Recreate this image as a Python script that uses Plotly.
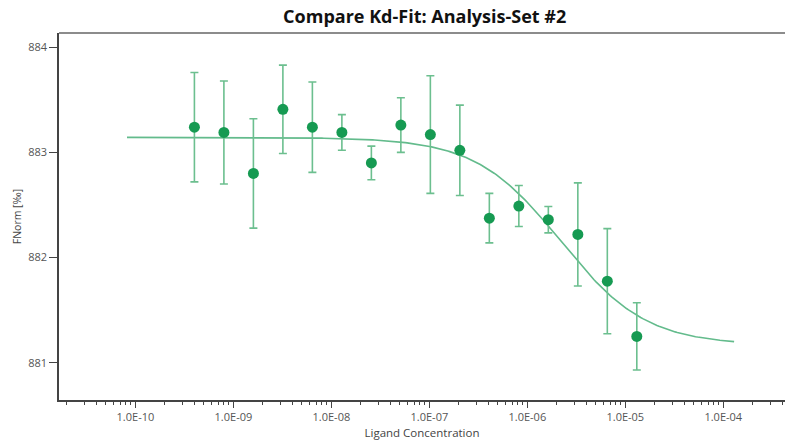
import numpy as np
import plotly.graph_objects as go

# Ligand dilution series (M) and measured normalized fluorescence
ligand_conc = [4.0e-10, 8.0e-10, 1.6e-9, 3.2e-9, 6.4e-9, 1.28e-8, 2.56e-8, 5.12e-8,
               1.024e-7, 2.048e-7, 4.096e-7, 8.192e-7, 1.6384e-6, 3.2768e-6,
               6.5536e-6, 1.31072e-5]
fnorm = [883.24, 883.19, 882.80, 883.41, 883.24, 883.19, 882.90, 883.26,
         883.17, 883.02, 882.375, 882.49, 882.36, 882.22, 881.775, 881.25]
fnorm_err = [0.52, 0.49, 0.52, 0.42, 0.43, 0.17, 0.16, 0.26,
             0.56, 0.43, 0.235, 0.195, 0.125, 0.49, 0.50, 0.32]

# Kd fit parameters
fit_unbound = 883.143
fit_bound = 881.167
fit_kd = 2.2e-6
fit_range = [8.2e-11, 1.29e-4]

x_tickvals = [1e-10, 1e-9, 1e-8, 1e-7, 1e-6, 1e-5, 1e-4]
x_ticktext = ["1.0E-10", "1.0E-09", "1.0E-08", "1.0E-07", "1.0E-06", "1.0E-05", "1.0E-04"]
y_tickvals = [881, 882, 883, 884]

fit_x = np.logspace(np.log10(fit_range[0]), np.log10(fit_range[1]), 300)
fit_y = fit_unbound + (fit_bound - fit_unbound) * fit_x / (fit_x + fit_kd)

minor_vals = [m * 10.0 ** e for e in range(-11, -3) for m in range(2, 10)]

font_family = "Open Sans, DejaVu Sans, sans-serif"

fig = go.Figure()
fig.add_trace(go.Scatter(
    x=fit_x, y=fit_y, mode="lines",
    line=dict(color="#63bb8c", width=1.6),
    hoverinfo="skip", showlegend=False,
))
fig.add_trace(go.Scatter(
    x=ligand_conc, y=fnorm, mode="markers",
    marker=dict(color="#169a52", size=11, line=dict(width=0)),
    error_y=dict(type="data", array=fnorm_err, visible=True,
                 color="#6cbf8f", thickness=1.6, width=4),
    showlegend=False,
))

fig.update_layout(
    width=785, height=441,
    margin=dict(l=59, r=0, t=33, b=41),
    paper_bgcolor="white", plot_bgcolor="white",
    font=dict(family=font_family, color="#555555"),
    title=dict(text="<b>Compare Kd-Fit: Analysis-Set #2</b>",
               x=0.541, xanchor="center", y=1 - 17 / 441, yanchor="middle",
               yref="container",
               font=dict(size=18, color="#111111", family=font_family)),
    shapes=[dict(type="line", xref="paper", yref="paper",
                 x0=0, x1=1, y0=1, y1=1,
                 line=dict(color="#666666", width=1.5))],
)
fig.update_xaxes(
    type="log", range=[-10.78, -3.37],
    tickmode="array", tickvals=x_tickvals, ticktext=x_ticktext,
    ticks="outside", ticklen=6, tickwidth=1.2, tickcolor="#444444",
    minor=dict(tickmode="array", tickvals=minor_vals, ticks="outside",
               ticklen=3, tickwidth=1, tickcolor="#444444", showgrid=False),
    showline=True, linecolor="#444444", linewidth=1.5,
    showgrid=False, zeroline=False,
    tickfont=dict(size=11, color="#555555"),
    title=dict(text="Ligand Concentration", standoff=6,
               font=dict(size=11.5, color="#444444")),
)
fig.update_yaxes(
    range=[880.645, 884.136],
    tickmode="array", tickvals=y_tickvals,
    ticks="outside", ticklen=8, tickwidth=1.2, tickcolor="#444444",
    showline=True, linecolor="#444444", linewidth=1.5,
    showgrid=False, zeroline=False,
    tickfont=dict(size=11, color="#555555"),
    title=dict(text="FNorm [‰]", standoff=4,
               font=dict(size=10.5, color="#444444")),
)

fig.write_html("out.html")
